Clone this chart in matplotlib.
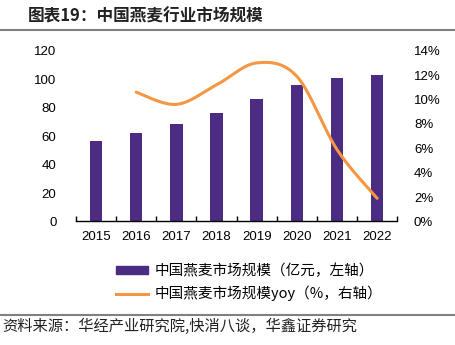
import numpy as np
import matplotlib
matplotlib.use('Agg')
import matplotlib.pyplot as plt
from matplotlib.lines import Line2D
from matplotlib.patches import Patch

plt.rcParams['font.family'] = ['Liberation Sans', 'Noto Sans CJK SC', 'DejaVu Sans']
plt.rcParams['axes.unicode_minus'] = False

years = ['2015', '2016', '2017', '2018', '2019', '2020', '2021', '2022']
market_size = [56.7, 62.5, 68.3, 76.0, 85.8, 96.0, 101.1, 103.2]   # 亿元
yoy_years = ['2016', '2017', '2018', '2019', '2020', '2021', '2022']
yoy = [10.6, 9.6, 11.2, 13.0, 11.9, 5.9, 1.9]                      # %

bar_color = '#4B2C82'
line_color = '#F59642'
cjk = ['Noto Sans CJK SC', 'DejaVu Sans']


def smooth_curve(x, y, n=30):
    # Bezier smoothing through every point (similar to office "smoothed line")
    x = np.asarray(x, float)
    y = np.asarray(y, float)
    xs, ys = [], []
    for i in range(len(x) - 1):
        p0 = np.array([x[max(i - 1, 0)], y[max(i - 1, 0)]])
        p1 = np.array([x[i], y[i]])
        p2 = np.array([x[i + 1], y[i + 1]])
        p3 = np.array([x[min(i + 2, len(x) - 1)], y[min(i + 2, len(x) - 1)]])
        c1 = p1 + (p2 - p0) / 6
        c2 = p2 - (p3 - p1) / 6
        t = np.linspace(0, 1, n)[:, None]
        pts = ((1 - t) ** 3) * p1 + 3 * ((1 - t) ** 2) * t * c1 + 3 * (1 - t) * t ** 2 * c2 + t ** 3 * p2
        xs.extend(pts[:, 0])
        ys.extend(pts[:, 1])
    return xs, ys


fig = plt.figure(figsize=(4.55, 3.45), dpi=100)
ax1 = fig.add_axes([0.167, 0.358, 0.706, 0.495])
ax2 = ax1.twinx()

xpos = np.arange(len(years))
ax1.bar(xpos, market_size, width=0.31, color=bar_color, zorder=2)

yoy_x = [years.index(y) for y in yoy_years]
sx, sy = smooth_curve(yoy_x, yoy)
ax2.plot(sx, sy, color=line_color, linewidth=2.2, solid_capstyle='round')

# left axis
ax1.set_xlim(-0.5, 7.5)
ax1.set_ylim(0, 120)
ax1.set_yticks(range(0, 121, 20))
ax1.set_xticks(xpos)
ax1.set_xticklabels(years)
ax1.set_xticks(np.arange(-0.5, 8, 1), minor=True)
ax1.tick_params(axis='x', which='major', length=0, labelsize=9.5, pad=7)
ax1.tick_params(axis='x', which='minor', length=3.5, width=1, direction='in')
ax1.tick_params(axis='y', length=0, labelsize=9.5, pad=14)

# right axis
ax2.set_ylim(0, 14)
ax2.set_yticks(range(0, 15, 2))
ax2.set_yticklabels([f'{v}%' for v in range(0, 15, 2)])
ax2.tick_params(axis='y', length=0, labelsize=9.5, pad=12)

for ax in (ax1, ax2):
    for s in ('top', 'left', 'right'):
        ax.spines[s].set_visible(False)
ax2.spines['bottom'].set_visible(False)
ax1.spines['bottom'].set_linewidth(1)

# legend
handles = [Patch(color=bar_color), Line2D([0], [0], color=line_color, linewidth=2.2)]
labels = ['中国燕麦市场规模（亿元，左轴）', '中国燕麦市场规模yoy（%，右轴）']
fig.legend(handles, labels, loc='upper left', bbox_to_anchor=(0.225, 0.273),
           frameon=False, prop={'family': cjk, 'size': 10.5}, handlelength=2.2,
           handleheight=0.45, labelspacing=0.5, handletextpad=0.45)

# title and source
fig.text(0.062, 0.953, '图表19：中国燕麦行业市场规模', fontsize=12, fontweight='bold',
         family=cjk, va='center', ha='left', color='#222222')
fig.add_artist(Line2D([0.0, 1.0], [0.913, 0.913], color='#808080', linewidth=1.5))
fig.add_artist(Line2D([0.0, 1.0], [0.087, 0.087], color='#808080', linewidth=1.5))
fig.text(0.005, 0.055, '资料来源：华经产业研究院,快消八谈，华鑫证券研究', fontsize=11,
         family=cjk, va='center', ha='left', color='#222222')

fig.savefig('out.png', dpi=100)
